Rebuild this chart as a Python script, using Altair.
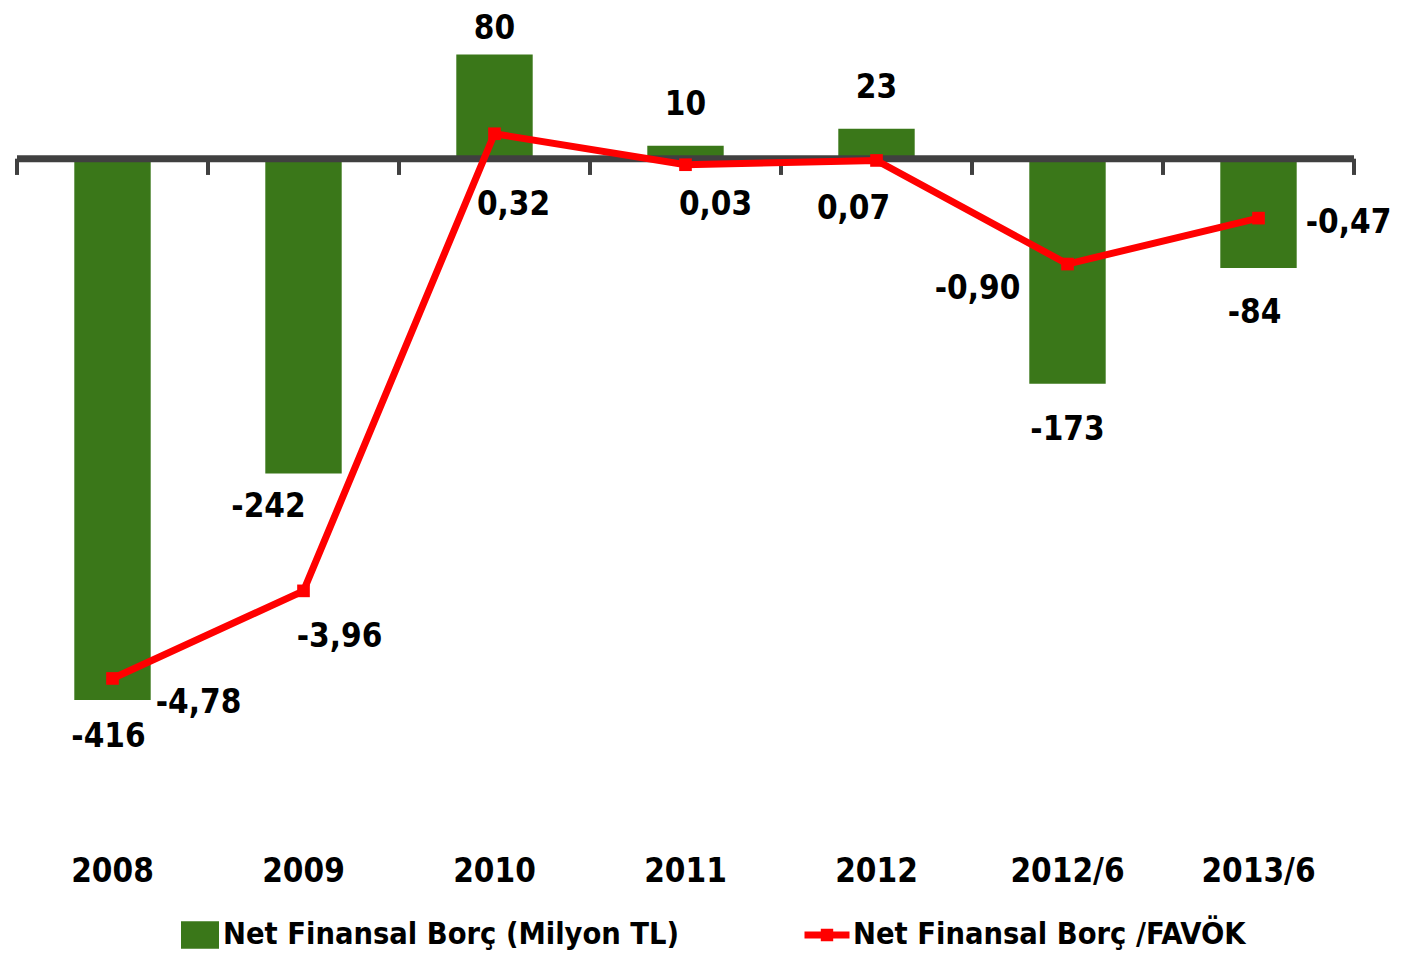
import altair as alt
import pandas as pd

categories = ["2008", "2009", "2010", "2011", "2012", "2012/6", "2013/6"]
net_debt = [-416, -242, 80, 10, 23, -173, -84]
debt_ebitda = [-4.78, -3.96, 0.32, 0.03, 0.07, -0.90, -0.47]
series_bar = "Net Finansal Borç (Milyon TL)"
series_line = "Net Finansal Borç /FAVÖK"

df = pd.DataFrame({
    "cat": categories,
    "nfb": net_debt,
    "ratio": debt_ebitda,
    "nfb_lbl": [str(v) for v in net_debt],
    "ratio_lbl": [f"{v:.2f}".replace(".", ",") for v in debt_ebitda],
    "s1": [series_bar] * len(categories),
    "s2": [series_line] * len(categories),
})

FONT = "DejaVu Sans Condensed, Liberation Sans Narrow, sans-serif"
GREEN = "#3A7719"
RED = "#FF0000"
AXIS = "#404040"
FS = 33
LFS = 30.5

xenc = alt.X("cat:N", sort=categories,
             scale=alt.Scale(paddingInner=0, paddingOuter=0),
             axis=alt.Axis(title=None, domain=False, ticks=False, labelAngle=0,
                           labelFont=FONT, labelFontSize=FS, labelFontWeight="bold",
                           labelColor="black", labelPadding=25, labelOverlap=False,
                           grid=False))
xplain = alt.X("cat:N", sort=categories)

bar_scale = alt.Scale(domain=[-516.0, 106.6], nice=False, zero=False)
line_scale = alt.Scale(domain=[-6.199, 1.385], nice=False, zero=False)

base = alt.Chart(df)

bars = base.mark_bar(width=alt.RelativeBandSize(0.4)).encode(
    x=xenc,
    y=alt.Y("nfb:Q", scale=bar_scale, axis=None),
    fill=alt.Fill("s1:N", scale=alt.Scale(domain=[series_bar], range=[GREEN]),
                  legend=alt.Legend(title=None, orient="none", legendX=164, legendY=896,
                                    symbolType="M-1,-0.72H1V0.72H-1Z", symbolSize=1444,
                                    symbolStrokeWidth=0, symbolOpacity=1,
                                    labelFont=FONT, labelFontSize=LFS, labelFontWeight="bold",
                                    labelColor="black", labelOffset=4, padding=0,
                                    labelLimit=800)),
)

axis_base = base.transform_calculate(zero="0", tick_end="-12.5")

zero_line = axis_base.transform_filter(alt.datum.cat == categories[0]).mark_rule(
    color=AXIS, strokeWidth=7).encode(
    y=alt.Y("zero:Q", axis=None),
)

ticks_start = axis_base.mark_rule(color=AXIS, strokeWidth=4).encode(
    x=alt.X("cat:N", sort=categories, bandPosition=0),
    y=alt.Y("zero:Q", axis=None),
    y2="tick_end:Q",
)
ticks_end = axis_base.transform_filter(alt.datum.cat == categories[-1]).mark_rule(
    color=AXIS, strokeWidth=4).encode(
    x=alt.X("cat:N", sort=categories, bandPosition=1),
    y=alt.Y("zero:Q", axis=None),
    y2="tick_end:Q",
)

bar_offsets = {
    "2008": (-4, 37), "2009": (-35, 33), "2010": (0, -26), "2011": (0, -41),
    "2012": (0, -41), "2012/6": (0, 46), "2013/6": (-4, 45),
}
line_offsets = {
    "2008": (86, 25), "2009": (36, 46), "2010": (19, 71), "2011": (30, 40),
    "2012": (-23, 49), "2012/6": (-90, 25), "2013/6": (90, 5),
}


def label_layers(yfield, textfield, offsets):
    out = []
    for c, (dx, dy) in offsets.items():
        out.append(
            base.transform_filter(alt.datum.cat == c).mark_text(
                dx=dx, dy=dy, font=FONT, fontSize=FS, fontWeight="bold",
                align="center", baseline="middle", color="black").encode(
                x=xplain,
                y=alt.Y(yfield, axis=None),
                text=textfield)
        )
    return out


bar_group = alt.layer(bars, zero_line, ticks_start, ticks_end,
                      *label_layers("nfb:Q", "nfb_lbl:N", bar_offsets))

line = base.mark_line(strokeWidth=7, color=RED).encode(
    x=xplain,
    y=alt.Y("ratio:Q", scale=line_scale, axis=None),
    stroke=alt.Stroke("s2:N", scale=alt.Scale(domain=[series_line], range=[RED]),
                      legend=alt.Legend(title=None, orient="none", legendX=784, legendY=889,
                                        symbolType="M-1,0H1M-0.12,-0.12H0.12V0.12H-0.12Z",
                                        symbolSize=2025, symbolStrokeWidth=7,
                                        labelFont=FONT, labelFontSize=LFS, labelFontWeight="bold",
                                        labelColor="black", labelOffset=0, padding=0,
                                        labelLimit=800)),
)
points = base.mark_point(shape="square", filled=True, size=160, color=RED, opacity=1).encode(
    x=xplain,
    y=alt.Y("ratio:Q", axis=None),
)

line_group = alt.layer(line, points,
                       *label_layers("ratio:Q", "ratio_lbl:N", line_offsets))

chart = alt.layer(bar_group, line_group).resolve_scale(y="independent").properties(
    width=1337, height=810,
    autosize=alt.AutoSizeParams(type="none"),
    padding={"left": 9, "top": 12, "right": 56, "bottom": 124},
    background="white",
).configure_view(stroke=None)

chart.save("out.html", embed_options={"renderer": "svg", "actions": False})
